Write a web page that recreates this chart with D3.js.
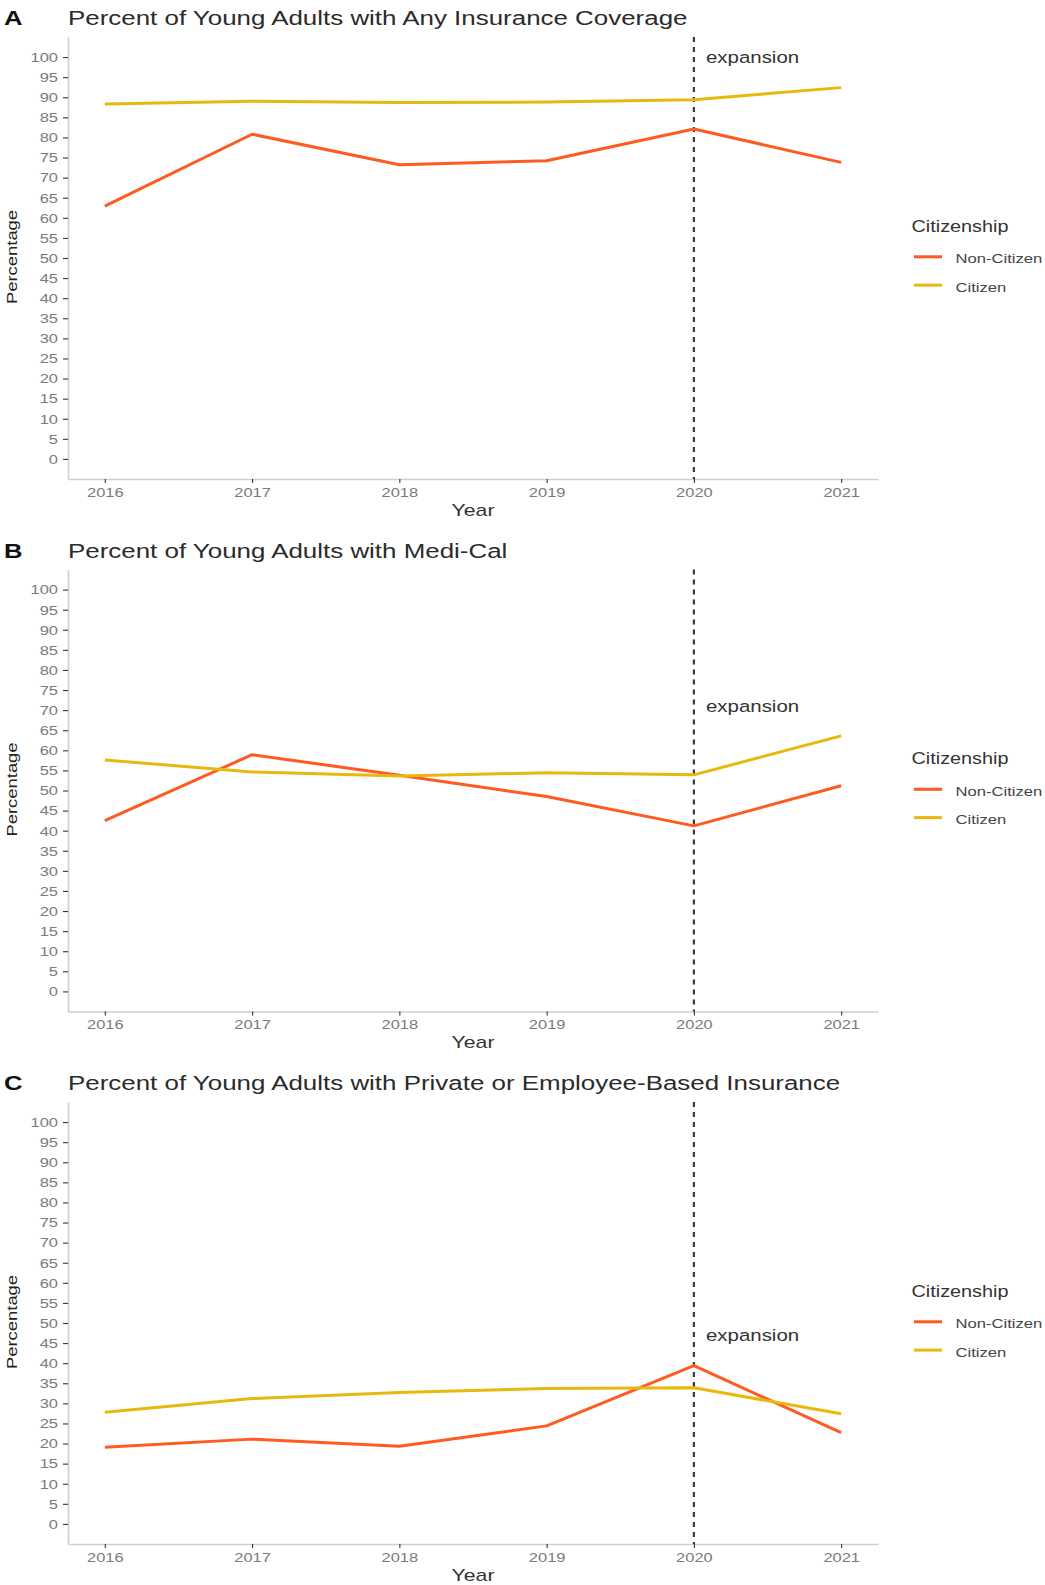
<!DOCTYPE html>
<html><head><meta charset="utf-8">
<script src="https://cdn.jsdelivr.net/npm/d3@7"></script>
<style>html,body{margin:0;padding:0;background:#fff;}svg{display:block;}</style>
</head><body>
<svg id="chart" width="1045" height="1585"></svg>
<script>
const years = [2016, 2017, 2018, 2019, 2020, 2021];
const yTicks = [0,5,10,15,20,25,30,35,40,45,50,55,60,65,70,75,80,85,90,95,100];
const panelLetters = ["A", "B", "C"];
const panelTitles = [
  "Percent of Young Adults with Any Insurance Coverage",
  "Percent of Young Adults with Medi-Cal",
  "Percent of Young Adults with Private or Employee-Based Insurance"
];
const nonCitizenA = [62.9, 80.8, 73.2, 74.2, 82.1, 73.8];
const citizenA    = [88.3, 89.0, 88.7, 88.8, 89.4, 92.4];
const nonCitizenB = [42.5, 58.9, 53.8, 48.5, 41.2, 51.2];
const citizenB    = [57.6, 54.6, 53.6, 54.4, 53.9, 63.6];
const nonCitizenC = [19.1, 21.1, 19.3, 24.4, 39.4, 22.7];
const citizenC    = [27.8, 31.2, 32.7, 33.7, 33.9, 27.4];
const expansionYear = 2020;
const expansionLabelY = [98.5, 69.6, 45.6];
const seriesNames = ["Non-Citizen", "Citizen"];
const seriesColors = ["#FF5A1F", "#E8B80C"];
const legendTitle = "Citizenship";

const panels = [
  {letter: panelLetters[0], title: panelTitles[0], series: [nonCitizenA, citizenA], labelY: expansionLabelY[0]},
  {letter: panelLetters[1], title: panelTitles[1], series: [nonCitizenB, citizenB], labelY: expansionLabelY[1]},
  {letter: panelLetters[2], title: panelTitles[2], series: [nonCitizenC, citizenC], labelY: expansionLabelY[2]}
];

(function () {
const svg = d3.select("#chart");
const FONT = "'Liberation Sans', Arial, Helvetica, sans-serif";
const SX = 1.22;
const panelStep = 532.5;
const pLeft = 68, pRight = 878, pTop = 37, pBottom = 479;

const x = d3.scaleLinear().domain([2015.75, 2021.25]).range([pLeft, pRight]);
const y = d3.scaleLinear().domain([-5, 105]).range([pBottom, pTop]);

function addText(g, px, py, str, o) {
  return g.append("text")
    .attr("transform", `translate(${px},${py}) scale(${o.sx || SX},1)`)
    .attr("text-anchor", o.anchor || "start")
    .attr("font-family", FONT)
    .attr("font-size", o.size)
    .attr("font-weight", o.weight || "normal")
    .attr("fill", o.fill || "#333")
    .text(str);
}

panels.forEach((p, i) => {
  const g = svg.append("g").attr("transform", `translate(0,${i * panelStep})`);

  addText(g, 4, 25, p.letter, {size: 21, weight: "bold", fill: "#111"});
  addText(g, 68, 25, p.title, {size: 21, sx: 1.235, fill: "#2b2b2b"});

  // y axis
  const ya = g.append("g").attr("transform", `translate(${pLeft},0)`)
    .call(d3.axisLeft(y).tickValues(yTicks).tickSize(5).tickPadding(5).tickSizeOuter(0));
  ya.select(".domain").attr("stroke", "#cfcfcf").attr("stroke-width", 1.6);
  ya.selectAll(".tick line").attr("stroke", "#333").attr("stroke-width", 1.1);
  ya.selectAll(".tick text").each(function() {
    const t = d3.select(this);
    const xx = +t.attr("x");
    t.attr("x", xx / SX).attr("transform", `scale(${SX},1)`);
  }).attr("font-family", FONT).attr("font-size", 13.5).attr("fill", "#7a7a7a");

  // x axis
  const xa = g.append("g").attr("transform", `translate(0,${pBottom})`)
    .call(d3.axisBottom(x).tickValues(years).tickFormat(d3.format("d")).tickSize(4).tickPadding(4).tickSizeOuter(0));
  xa.select(".domain").attr("stroke", "#cfcfcf").attr("stroke-width", 1.6);
  xa.selectAll(".tick line").attr("stroke", "#333").attr("stroke-width", 1.1);
  xa.selectAll(".tick text").attr("transform", `scale(${SX},1)`)
    .attr("font-family", FONT).attr("font-size", 13.5).attr("fill", "#7a7a7a");

  // axis titles
  addText(g, (pLeft + pRight) / 2, 515.5, "Year", {size: 17, sx: 1.25, anchor: "middle", fill: "#333"});
  g.append("text")
    .attr("transform", `translate(16.5,257) rotate(-90) scale(1.19,1)`)
    .attr("text-anchor", "middle").attr("font-family", FONT).attr("font-size", 15.5)
    .attr("fill", "#222").text("Percentage");

  // expansion line
  g.append("line")
    .attr("x1", x(expansionYear)).attr("x2", x(expansionYear))
    .attr("y1", pTop).attr("y2", pBottom)
    .attr("stroke", "#3a3a3a").attr("stroke-width", 2.2).attr("stroke-dasharray", "5,5");
  addText(g, x(expansionYear) + 12, y(p.labelY), "expansion", {size: 16.5, sx: 1.24, fill: "#333"});

  // series lines
  const line = d3.line().x((d, j) => x(years[j])).y(d => y(d));
  p.series.forEach((s, k) => {
    g.append("path").datum(s).attr("d", line)
      .attr("fill", "none").attr("stroke", seriesColors[k]).attr("stroke-width", 3)
      .attr("stroke-linejoin", "round");
  });

  // legend
  addText(g, 911.5, 231.7, legendTitle, {size: 16, sx: 1.24, fill: "#333"});
  seriesNames.forEach((nm, k) => {
    const ly = 256.8 + k * 28.3;
    g.append("line").attr("x1", 914).attr("x2", 942).attr("y1", ly).attr("y2", ly)
      .attr("stroke", seriesColors[k]).attr("stroke-width", 3);
    addText(g, 955.5, ly + 6.5, nm, {size: 13.5, sx: 1.23, fill: "#444"});
  });
});
})();
</script>
</body></html>
